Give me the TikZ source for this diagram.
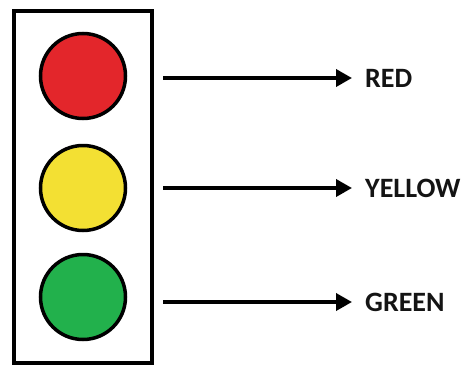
\documentclass[tikz,border=0pt]{standalone}
\usepackage{fontspec}
\setmainfont{Carlito}
\usetikzlibrary{arrows.meta}
\definecolor{lred}{HTML}{E3262B}
\definecolor{lyellow}{HTML}{F3E033}
\definecolor{lgreen}{HTML}{22B14C}
\definecolor{ink}{HTML}{141414}
\begin{document}
\begin{tikzpicture}[x=1pt,y=-1pt,
  lamp/.style={circle,draw=black,line width=3.5pt,minimum size=85pt,inner sep=0pt},
  label/.style={anchor=west,inner sep=0pt,font=\fontsize{28}{30}\selectfont\bfseries,text=ink},
  pointer/.style={line width=3.6pt,-{Triangle[length=16pt,width=17pt]},shorten >=13pt}]
\useasboundingbox (0,0) rectangle (468,364);
\fill[white] (0,0) rectangle (468,364);
\draw[line width=4pt] (13.5,368) -- (13.5,11) -- (151.5,11) -- (151.5,368);
\draw[line width=4pt] (13.5,363) -- (151.5,363);
\node[lamp,fill=lred] (r) at (83,76) {};
\node[lamp,fill=lyellow] (y) at (83,188) {};
\node[lamp,fill=lgreen] (g) at (83,297) {};
\node[label] (tr) at (365,78) {RED};
\node[label] (ty) at (365,188) {YELLOW};
\node[label] (tg) at (365,302) {GREEN};
\coordinate (ar) at (163,78);
\coordinate (ay) at (163,188);
\coordinate (ag) at (163,302);
\draw[pointer] (ar) -- (tr.west);
\draw[pointer] (ay) -- (ty.west);
\draw[pointer] (ag) -- (tg.west);
\end{tikzpicture}
\end{document}
